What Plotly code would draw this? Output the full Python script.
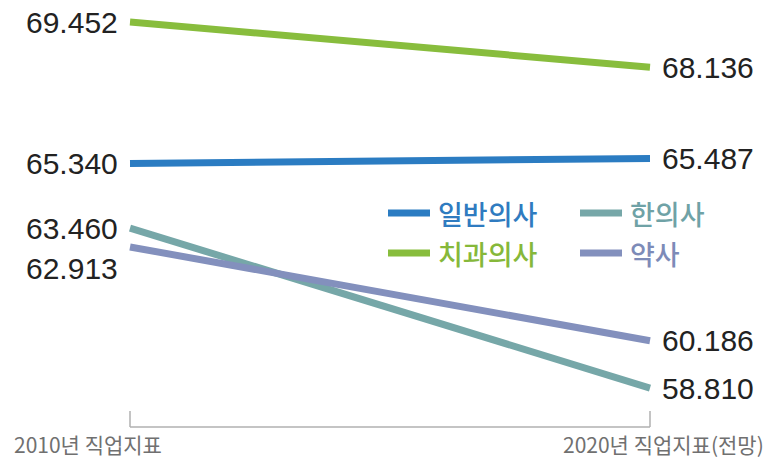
import plotly.graph_objects as go

periods = ["2010년 직업지표", "2020년 직업지표(전망)"]
series_names = ["일반의사", "한의사", "치과의사", "약사"]
v_general = [65.340, 65.487]
v_oriental = [63.460, 58.810]
v_dental = [69.452, 68.136]
v_pharm = [62.913, 60.186]
colors = ["#2b7cc2", "#76a7a8", "#88bd3d", "#8390bd"]
text_colors = ["#2f7bc0", "#6fa2a6", "#86b83a", "#7d8bb8"]

values = [v_general, v_oriental, v_dental, v_pharm]
xs = [0, 1]

fig = go.Figure()
for name, vals, c in zip(series_names, values, colors):
    fig.add_trace(go.Scatter(x=xs, y=vals, mode="lines", name=name,
                             line=dict(color=c, width=7), showlegend=False,
                             hoverinfo="skip"))

num_font = dict(family="Liberation Sans, Arial, sans-serif", size=30, color="#222222")
label_shift_left = {3: -22}
for i, vals in enumerate(values):
    fig.add_annotation(x=0, y=vals[0], xref="x", yref="y", text=f"{vals[0]:.3f}",
                       showarrow=False, xanchor="right", yanchor="middle",
                       xshift=-10, yshift=label_shift_left.get(i, 0), font=num_font)
    fig.add_annotation(x=1, y=vals[1], xref="x", yref="y", text=f"{vals[1]:.3f}",
                       showarrow=False, xanchor="left", yanchor="middle",
                       xshift=10, font=num_font)

# legend (custom, 2 columns)
leg_pos = [(388, 213), (580, 213), (388, 253), (580, 253)]
W, H = 769, 469
ml, mr, mt, mb = 120, 109, 10, 60
pw, ph = W - ml - mr, H - mt - mb

def px_to_paper(px, py):
    return (px - ml) / pw, 1 - (py - mt) / ph

for (lx, ly), name, c, tc in zip(leg_pos, series_names, colors, text_colors):
    x0, y0 = px_to_paper(lx, ly)
    x1, _ = px_to_paper(lx + 42, ly)
    fig.add_shape(type="line", xref="paper", yref="paper", x0=x0, x1=x1, y0=y0, y1=y0,
                  line=dict(color=c, width=7))
    tx, _ = px_to_paper(lx + 48, ly)
    fig.add_annotation(x=tx, y=y0, xref="paper", yref="paper", text=name, showarrow=False,
                       xanchor="left", yanchor="middle",
                       font=dict(family="Noto Sans CJK KR, sans-serif", size=27, color=tc,
                                 weight=500))

# bottom bracket
_, yb = px_to_paper(0, 427)
_, yt = px_to_paper(0, 411)
fig.add_shape(type="line", xref="x", yref="paper", x0=0, x1=1, y0=yb, y1=yb,
              line=dict(color="#b0b0b0", width=1.5))
for xx in xs:
    fig.add_shape(type="line", xref="x", yref="paper", x0=xx, x1=xx, y0=yb, y1=yt,
                  line=dict(color="#b0b0b0", width=1.5))

_, ylab = px_to_paper(0, 444)
xl, _ = px_to_paper(12, 0)
xr, _ = px_to_paper(766, 0)
lab_font = dict(family="Noto Sans CJK KR, sans-serif", size=21, color="#707070")
fig.add_annotation(x=xl, y=ylab, xref="paper", yref="paper", text=periods[0], showarrow=False,
                   xanchor="left", yanchor="middle", font=lab_font)
fig.add_annotation(x=xr, y=ylab, xref="paper", yref="paper", text=periods[1], showarrow=False,
                   xanchor="right", yanchor="middle", font=lab_font)

# axes: 0 -> px 130, 1 -> px 650 ; 34.4 px per unit, 69.452 at px 22
ppu = 34.4
y_top = 69.452 + (22 - mt) / ppu
y_bot = 69.452 - (mt + ph - 22) / ppu
x_lo = -(130 - ml) / 520
x_hi = 1 + (ml + pw - 650) / 520

fig.update_layout(
    width=W, height=H,
    margin=dict(l=ml, r=mr, t=mt, b=mb),
    paper_bgcolor="white", plot_bgcolor="white",
    xaxis=dict(range=[x_lo, x_hi], visible=False, fixedrange=True),
    yaxis=dict(range=[y_bot, y_top], visible=False, fixedrange=True),
)

fig.write_html("out.html", config={"displayModeBar": False},
               post_script="document.body.style.margin='0';document.body.style.padding='0';")
